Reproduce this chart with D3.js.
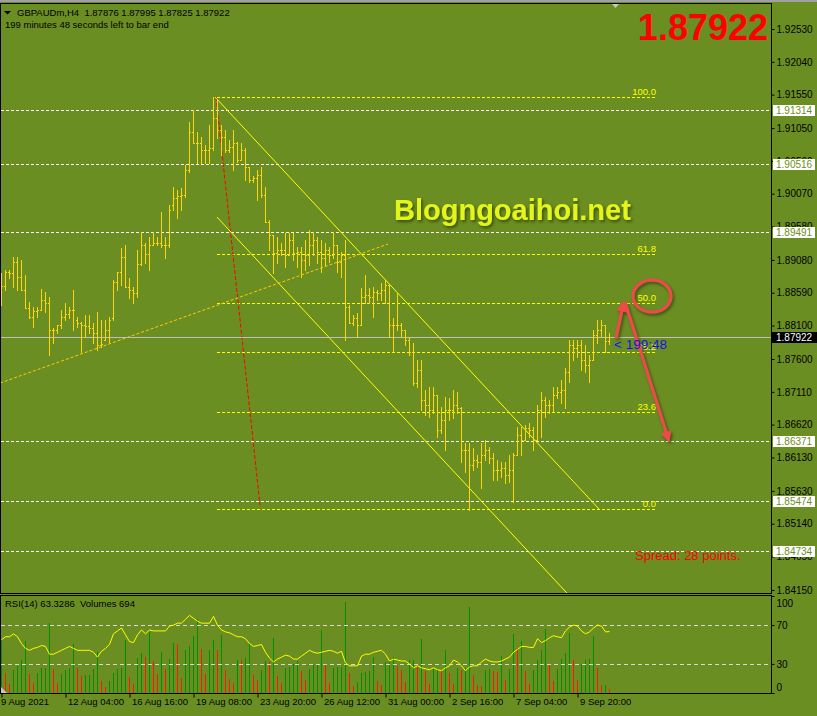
<!DOCTYPE html>
<meta charset="utf-8">
<style>
body { margin: 0; background: #6b8e23; }
svg { display: block; font-family: "Liberation Sans", Arial, sans-serif; }
</style>
<body>
<script src="https://d3js.org/d3.v7.min.js"></script>
<script>
// GBPAUDm H4 bars, oldest first
var barOpen = [
    1.8863,1.8869,1.8890,1.8888,1.8905,1.8882,1.8863,1.8836,1.8823,1.8832,
    1.8833,1.8848,1.8844,1.8803,1.8803,1.8811,1.8823,1.8827,1.8833,1.8818,
    1.8814,1.8811,1.8809,1.8806,1.8799,1.8781,1.8788,1.8803,1.8821,1.8875,
    1.8890,1.8912,1.8868,1.8863,1.8859,1.8902,1.8930,1.8917,1.8930,1.8933,
    1.8933,1.8930,1.8930,1.8990,1.9000,1.9004,1.9005,1.9042,1.9099,1.9083,
    1.9083,1.9072,1.9072,1.9075,1.9120,1.9102,1.9092,1.9072,1.9077,1.9083,
    1.9057,1.9072,1.9047,1.9027,1.9030,1.9035,1.9005,1.8965,1.8945,1.8918,
    1.8923,1.8923,1.8915,1.8938,1.8918,1.8920,1.8908,1.8915,1.8930,1.8938,
    1.8920,1.8911,1.8923,1.8915,1.8930,1.8905,1.8915,1.8838,1.8814,1.8821,
    1.8811,1.8853,1.8856,1.8853,1.8860,1.8859,1.8863,1.8871,1.8811,1.8811,
    1.8811,1.8803,1.8788,1.8770,1.8724,1.8744,1.8699,1.8691,1.8684,1.8706,
    1.8654,1.8669,1.8684,1.8684,1.8691,1.8687,1.8624,1.8624,1.8602,1.8609,
    1.8606,1.8617,1.8624,1.8612,1.8594,1.8594,1.8597,1.8587,1.8594,1.8617,
    1.8646,1.8639,1.8657,1.8654,1.8639,1.8684,1.8699,1.8691,1.8691,1.8706,
    1.8711,1.8714,1.8741,1.8781,1.8776,1.8781,1.8758,1.8751,1.8758,1.8796,
    1.8803,1.8811,1.87876]
var barHigh = [
    1.8888,1.8893,1.8893,1.8912,1.8912,1.8908,1.8885,1.8845,1.8838,1.8838,
    1.8865,1.8860,1.8853,1.8806,1.8811,1.8833,1.8844,1.8838,1.8863,1.8823,
    1.8815,1.8826,1.8826,1.8814,1.8830,1.8818,1.8818,1.8823,1.8878,1.8890,
    1.8926,1.8930,1.8881,1.8868,1.8923,1.8950,1.8933,1.8942,1.8950,1.8942,
    1.8980,1.8942,1.8990,1.9017,1.9012,1.9015,1.9050,1.9114,1.9132,1.9099,
    1.9092,1.9080,1.9110,1.9151,1.9147,1.9110,1.9102,1.9087,1.9102,1.9084,
    1.9083,1.9075,1.9047,1.9033,1.9042,1.9047,1.9017,1.8968,1.8945,1.8942,
    1.8933,1.8948,1.8948,1.8948,1.8927,1.8927,1.8938,1.8953,1.8950,1.8942,
    1.8938,1.8933,1.8927,1.8950,1.8930,1.8920,1.8938,1.8841,1.8826,1.8829,
    1.8866,1.8885,1.8866,1.8868,1.8863,1.8874,1.8878,1.8871,1.8821,1.8859,
    1.8814,1.8803,1.8793,1.8784,1.8758,1.8758,1.8714,1.8718,1.8718,1.8706,
    1.8688,1.8703,1.8702,1.8714,1.8711,1.8688,1.8634,1.8634,1.8627,1.8617,
    1.8634,1.8639,1.8628,1.8620,1.8609,1.8606,1.8606,1.8617,1.8620,1.8658,
    1.8658,1.8661,1.8664,1.8658,1.8691,1.8711,1.8703,1.8699,1.8718,1.8718,
    1.8729,1.8747,1.8788,1.8788,1.8788,1.8788,1.8781,1.8766,1.8803,1.8818,
    1.8818,1.8811,1.87995]
var barLow = [
    1.8841,1.8863,1.8881,1.8868,1.8863,1.8863,1.8836,1.8821,1.8808,1.8823,
    1.8833,1.8830,1.8766,1.8784,1.8799,1.8806,1.8818,1.8821,1.8803,1.8808,
    1.8770,1.8793,1.8799,1.8784,1.8773,1.8778,1.8788,1.8785,1.8818,1.8863,
    1.8871,1.8868,1.8851,1.8844,1.8853,1.8900,1.8903,1.8893,1.8930,1.8930,
    1.8927,1.8911,1.8927,1.8983,1.8971,1.8983,1.9002,1.9039,1.9083,1.9053,
    1.9053,1.9053,1.9053,1.9072,1.9090,1.9065,1.9069,1.9069,1.9042,1.9054,
    1.9057,1.9027,1.9024,1.9024,1.8998,1.9002,1.8965,1.8923,1.8888,1.8903,
    1.8915,1.8897,1.8915,1.8908,1.8897,1.8882,1.8893,1.8900,1.8915,1.8903,
    1.8890,1.8900,1.8905,1.8911,1.8890,1.8882,1.8788,1.8814,1.8811,1.8793,
    1.8811,1.8844,1.8844,1.8823,1.8848,1.8848,1.8844,1.8793,1.8770,1.8803,
    1.8793,1.8781,1.8766,1.8721,1.8718,1.8684,1.8676,1.8673,1.8679,1.8643,
    1.8649,1.8624,1.8669,1.8672,1.8679,1.8606,1.8591,1.8534,1.8594,1.8599,
    1.8567,1.8609,1.8605,1.8579,1.8579,1.8584,1.8575,1.8576,1.8546,1.8617,
    1.8617,1.8639,1.8643,1.8624,1.8639,1.8643,1.8673,1.8679,1.8681,1.8702,
    1.8694,1.8687,1.8726,1.8758,1.8763,1.8744,1.8741,1.8726,1.8758,1.8784,
    1.8793,1.8770,1.87825]
var barClose = [
    1.8869,1.8890,1.8888,1.8905,1.8882,1.8863,1.8836,1.8823,1.8832,1.8833,
    1.8848,1.8844,1.8803,1.8803,1.8811,1.8823,1.8827,1.8833,1.8833,1.8814,
    1.8811,1.8809,1.8806,1.8799,1.8781,1.8782,1.8803,1.8818,1.8875,1.8890,
    1.8912,1.8868,1.8863,1.8859,1.8902,1.8930,1.8917,1.8930,1.8933,1.8933,
    1.8930,1.8930,1.8983,1.9000,1.9004,1.9005,1.9042,1.9099,1.9083,1.9083,
    1.9072,1.9072,1.9075,1.9120,1.9102,1.9092,1.9072,1.9077,1.9083,1.9057,
    1.9072,1.9047,1.9027,1.9030,1.9035,1.9005,1.8965,1.8945,1.8918,1.8923,
    1.8923,1.8915,1.8938,1.8918,1.8920,1.8908,1.8915,1.8930,1.8938,1.8920,
    1.8911,1.8923,1.8915,1.8930,1.8905,1.8915,1.8838,1.8814,1.8821,1.8811,
    1.8853,1.8856,1.8853,1.8860,1.8859,1.8863,1.8871,1.8811,1.8811,1.8811,
    1.8803,1.8788,1.8770,1.8724,1.8744,1.8699,1.8691,1.8684,1.8706,1.8654,
    1.8669,1.8684,1.8684,1.8691,1.8687,1.8624,1.8624,1.8602,1.8609,1.8606,
    1.8617,1.8624,1.8612,1.8594,1.8594,1.8597,1.8587,1.8594,1.8617,1.8646,
    1.8639,1.8657,1.8654,1.8639,1.8684,1.8699,1.8691,1.8691,1.8706,1.8711,
    1.8714,1.8741,1.8781,1.8776,1.8781,1.8758,1.8751,1.8758,1.8796,1.8803,
    1.8811,1.8787,1.87922]
var volumes = [
    8960,3400,1470,3860,4540,5560,8790,3180,1700,3400,
    4250,4310,11910,4030,1700,3180,3860,4310,8390,4310,
    2840,3010,3060,4030,6970,2040,1020,2040,3460,4140,
    4250,8960,2720,1470,6010,6800,6120,10380,5440,3290,
    6970,4140,5730,8510,8280,2610,7260,7940,9640,12640,
    7430,3290,7260,9070,7260,9810,3860,2440,1700,5670,
    5600,6010,8390,3010,2270,3860,5440,5270,9360,2840,
    1700,4250,4400,4880,5440,3740,2270,4140,4710,4880,
    10660,4870,1700,4310,4420,4480,15480,3400,1130,1870,
    3400,3570,3740,6120,2040,1300,5270,5560,6120,4600,
    3860,1870,5560,5620,4540,9130,3690,1470,4030,4140,
    3860,7260,3460,1470,4310,3860,4310,14630,3010,1300,
    1250,3860,4030,3690,3650,6240,2150,4030,9980,7710,
    8790,3690,1470,3860,5560,7260,10940,4880,2040,4030,
    5840,6800,10260,5560,2150,4880,5560,5730,9640,4250,
    1300,1350,694]
var rsiValues = [
    55,58,58,61,58,51,46,44,46,47,
    49,48,40,40,42,44,46,48,46,44,
    44,44,44,42,37,43,46,50,61,64,
    67,60,53,52,60,65,61,65,64,64,
    64,64,69,70,72,72,76,80,77,74,
    72,72,72,79,70,65,63,62,60,58,
    58,56,51,48,49,50,42,36,32,35,
    37,39,38,35,35,38,41,44,42,41,
    42,43,44,43,41,43,31,28,28,28,
    38,40,40,42,43,44,40,33,35,34,
    33,33,30,26,28,26,25,24,26,24,
    23,26,28,34,32,28,23,27,28,28,
    32,35,33,32,32,33,35,37,42,45,
    48,48,47,47,56,52,54,57,59,58,
    57,64,68,70,69,64,61,63,67,70,
    69,63,63.3286]

var timeTicks = [0, 16, 32, 48, 64, 80, 96, 112, 128, 144]
var timeLabels = ['9 Aug 2021', '12 Aug 04:00', '16 Aug 16:00', '19 Aug 08:00', '23 Aug 20:00',
    '26 Aug 12:00', '31 Aug 00:00', '2 Sep 16:00', '7 Sep 04:00', '9 Sep 20:00']
var priceTicks = [1.92530, 1.92040, 1.91550, 1.91050, 1.90560, 1.90070, 1.89580, 1.89080, 1.88590,
    1.88100, 1.87600, 1.87110, 1.86620, 1.86130, 1.85630, 1.85140, 1.84650, 1.84150]
var levelLines = [1.91314, 1.90516, 1.89491, 1.86371, 1.85474, 1.84734]
var rsiLevels = [70, 30]
var lastPrice = 1.87922
var spreadPoints = 28

// fibonacci retracement: anchors [bar, price]
var fibLevels = [100.0, 61.8, 50.0, 38.2, 23.6, 0.0]
var fibHigh = [54, 1.91514]
var fibLow = [163.75, 1.85360]
// drawn objects, [bar, price] pairs
var channelUpper = [[53.5, 1.91514], [149.75, 1.85344]]
var channelLower = [[54, 1.89721], [145, 1.83879]]
var risingTrend = [[-0.25, 1.87241], [96.75, 1.89318]]
var fibTrend = [[53.75, 1.91514], [64.75, 1.85418]]
var arrowUp = [[153.75, 1.87913], [155.5, 1.88406]]
var arrowDown = [[156, 1.88451], [166.75, 1.86419]]
var ringCenter = [162.75, 1.88541]

var width = 817
var height = 716

var x = d3.scaleLinear().domain([-0.25, 192.25]).range([0, 770])
var y = d3.scaleLinear().domain([1.84150, 1.92530]).range([590, 29])
var rsiY = d3.scaleLinear().domain([0, 100]).range([693, 596])
var volY = d3.scaleLinear().domain([0, 16500]).range([693, 596])

var svg = d3.select('body').append('svg')
    .attr('width', width)
    .attr('height', height)

var defs = svg.append('defs')
defs.append('clipPath').attr('id', 'mainClip')
    .append('rect').attr('x', 1).attr('y', 4).attr('width', 770).attr('height', 589)
defs.append('clipPath').attr('id', 'subClip')
    .append('rect').attr('x', 1).attr('y', 596).attr('width', 770).attr('height', 97)
defs.append('marker')
    .attr('id', 'arrowHead')
    .attr('viewBox', '0 0 10 10')
    .attr('refX', 6).attr('refY', 5)
    .attr('markerWidth', 3.8).attr('markerHeight', 3.6)
    .attr('orient', 'auto')
    .append('path').attr('d', 'M0,0L10,5L0,10z').attr('fill', '#f04a4a')
var shadow = defs.append('filter').attr('id', 'shadow')
    .attr('x', '-10%').attr('y', '-20%').attr('width', '130%').attr('height', '160%')
shadow.append('feDropShadow')
    .attr('dx', 1.5).attr('dy', 2).attr('stdDeviation', 1.5)
    .attr('flood-color', '#33450c').attr('flood-opacity', 0.9)

svg.append('rect').attr('width', width).attr('height', height).attr('fill', '#6b8e23')
svg.append('rect').attr('width', width).attr('height', 2).attr('fill', '#a0a0a0')

var main = svg.append('g').attr('clip-path', 'url(#mainClip)')
var sub = svg.append('g').attr('clip-path', 'url(#subClip)')

function hLine(g, price, x1, x2, color, dash) {
    var yy = Math.round(y(price)) + 0.5
    return g.append('line')
        .attr('x1', x1).attr('x2', x2)
        .attr('y1', yy).attr('y2', yy)
        .attr('stroke', color)
        .attr('stroke-dasharray', dash)
}

function segment(g, pts, color, w, dash) {
    return g.append('line')
        .attr('x1', x(pts[0][0])).attr('y1', y(pts[0][1]))
        .attr('x2', x(pts[1][0])).attr('y2', y(pts[1][1]))
        .attr('stroke', color)
        .attr('stroke-width', w)
        .attr('stroke-dasharray', dash)
}

// horizontal levels
levelLines.forEach(function (v) { hLine(main, v, 1, 771, '#ffffff', '3,2') })

// fibo lines
var fibX1 = Math.round(x(fibHigh[0]))
var fibX2 = Math.round(x(fibLow[0]))
fibLevels.forEach(function (lv) {
    var p = fibLow[1] + (fibHigh[1] - fibLow[1]) * lv / 100
    hLine(main, p, fibX1, fibX2, '#ffff00', '3,2')
})

segment(main, fibTrend, '#ff0000', 1, '4,2')
segment(main, channelUpper, '#ffff00', 1, null)
segment(main, channelLower, '#ffff00', 1, null)
segment(main, risingTrend, '#ffcc00', 1, '3,2')

hLine(main, lastPrice, 1, 771, '#c0c0c0', null)

// OHLC bars
var bars = main.append('g')
    .attr('fill', '#ffd700')
    .attr('shape-rendering', 'crispEdges')
    .selectAll('g')
    .data(d3.range(barClose.length))
    .enter().append('g')

bars.append('rect')
    .attr('x', function (d) { return Math.round(x(d)) })
    .attr('y', function (d) { return Math.round(y(barHigh[d])) })
    .attr('width', 1)
    .attr('height', function (d) { return Math.round(y(barLow[d])) - Math.round(y(barHigh[d])) + 1 })
bars.append('rect')
    .attr('x', function (d) { return Math.round(x(d)) - 1 })
    .attr('y', function (d) { return Math.round(y(barOpen[d])) })
    .attr('width', 1).attr('height', 1)
bars.append('rect')
    .attr('x', function (d) { return Math.round(x(d)) + 1 })
    .attr('y', function (d) { return Math.round(y(barClose[d])) })
    .attr('width', 1).attr('height', 1)

// fibo level labels
var fibText = main.append('g')
    .attr('font-size', '9.5px')
    .attr('fill', '#ffff00')
    .attr('text-anchor', 'end')
fibLevels.forEach(function (lv) {
    var p = fibLow[1] + (fibHigh[1] - fibLow[1]) * lv / 100
    fibText.append('text')
        .attr('x', fibX2)
        .attr('y', Math.round(y(p)) - 2)
        .text(lv.toFixed(1))
})

// red arrows and ring
var marks = main.append('g').attr('filter', 'url(#shadow)')
segment(marks, arrowUp, '#f04a4a', 3, null).attr('marker-end', 'url(#arrowHead)')
segment(marks, arrowDown, '#f04a4a', 3, null).attr('marker-end', 'url(#arrowHead)')
marks.append('ellipse')
    .attr('cx', x(ringCenter[0])).attr('cy', y(ringCenter[1]))
    .attr('rx', 19).attr('ry', 16)
    .attr('fill', 'none')
    .attr('stroke', '#f04a4a')
    .attr('stroke-width', 3)

main.append('text')
    .attr('x', x(barClose.length - 1) + 5)
    .attr('y', Math.round(y(lastPrice)) + 12)
    .attr('font-size', '13.5px')
    .attr('fill', '#1515e8')
    .text('< 199:48')

main.append('text')
    .attr('x', 394).attr('y', 220)
    .attr('font-size', '29px')
    .attr('font-weight', 'bold')
    .attr('fill', '#e4f51a')
    .attr('filter', 'url(#shadow)')
    .text('Blogngoaihoi.net')

main.append('text')
    .attr('x', 768).attr('y', 40)
    .attr('text-anchor', 'end')
    .attr('font-size', '36px')
    .attr('font-weight', 'bold')
    .attr('fill', '#ff0000')
    .text(lastPrice.toFixed(5))

main.append('text')
    .attr('x', 635).attr('y', 560)
    .attr('font-size', '13px')
    .attr('fill', '#ff0000')
    .text('Spread: ' + spreadPoints + ' points.')

// indicator window: volumes + RSI
sub.append('g')
    .attr('shape-rendering', 'crispEdges')
    .selectAll('rect')
    .data(volumes)
    .enter().append('rect')
    .attr('x', function (d, i) { return Math.round(x(i)) })
    .attr('y', function (d) { return Math.round(volY(d)) })
    .attr('width', 1)
    .attr('height', function (d) { return 693 - Math.round(volY(d)) })
    .attr('fill', function (d, i) { return i > 0 && d < volumes[i - 1] ? '#ff1a00' : '#009000' })

rsiLevels.forEach(function (lv) {
    var yy = Math.round(rsiY(lv)) + 0.5
    sub.append('line')
        .attr('x1', 1).attr('x2', 771)
        .attr('y1', yy).attr('y2', yy)
        .attr('stroke', '#d8d8d8')
        .attr('stroke-dasharray', '4,3')
})

sub.append('path')
    .datum(rsiValues)
    .attr('fill', 'none')
    .attr('stroke', '#ffff00')
    .attr('stroke-width', 1)
    .attr('d', d3.line()
        .x(function (d, i) { return x(i) + 0.5 })
        .y(function (d) { return rsiY(d) }))

sub.append('path')
    .attr('d', 'M1,687L1,693L7,693Z')
    .attr('fill', '#c8c8c8')

// frames
svg.append('rect')
    .attr('x', 0.5).attr('y', 3.5).attr('width', 771).attr('height', 590)
    .attr('fill', 'none').attr('stroke', '#000')
svg.append('rect')
    .attr('x', 0.5).attr('y', 595.5).attr('width', 771).attr('height', 98)
    .attr('fill', 'none').attr('stroke', '#000')

svg.append('path')
    .attr('d', 'M612,4L619,4L615.5,8Z')
    .attr('fill', '#c8c8c8')

// price axis
var priceAxis = svg.append('g')
    .attr('transform', 'translate(771.5,0)')
    .call(d3.axisRight(y).tickValues(priceTicks).tickSize(3).tickPadding(2).tickFormat(d3.format('.5f')))
priceAxis.select('.domain').remove()
priceAxis.attr('font-family', null).attr('font-size', '10px').attr('color', '#000')

levelLines.forEach(function (v) {
    var yy = Math.round(y(v))
    svg.append('rect')
        .attr('x', 773).attr('y', yy - 5).attr('width', 42).attr('height', 11)
        .attr('fill', '#fff')
    svg.append('text')
        .attr('x', 776).attr('y', yy + 4)
        .attr('font-size', '10px')
        .attr('fill', '#6b8e23')
        .text(v.toFixed(5))
})
var lastY = Math.round(y(lastPrice))
svg.append('rect')
    .attr('x', 772).attr('y', lastY - 5).attr('width', 45).attr('height', 11)
    .attr('fill', '#000')
svg.append('text')
    .attr('x', 776).attr('y', lastY + 4)
    .attr('font-size', '10px')
    .attr('fill', '#fff')
    .text(lastPrice.toFixed(5))

// RSI axis
var rsiAxis = svg.append('g')
    .attr('transform', 'translate(771.5,0)')
    .call(d3.axisRight(rsiY).tickValues([100, 70, 30, 0]).tickSize(3).tickPadding(2))
rsiAxis.select('.domain').remove()
rsiAxis.attr('font-family', null).attr('font-size', '10px').attr('color', '#000')
rsiAxis.selectAll('text')
    .attr('dy', function (d) { return d === 100 ? '1.05em' : d === 0 ? '-0.25em' : '0.32em' })

// time axis
var timeAxis = svg.append('g')
    .attr('transform', 'translate(0.5,693.5)')
    .call(d3.axisBottom(x).tickValues(timeTicks).tickSize(4).tickPadding(1)
        .tickFormat(function (d, i) { return timeLabels[i] }))
timeAxis.select('.domain').remove()
timeAxis.attr('font-family', null).attr('font-size', '9.5px').attr('color', '#000')
timeAxis.selectAll('text').attr('text-anchor', 'start')
    .attr('x', function (d) { return d === 0 ? -1 : 2 })

// header text
svg.append('path').attr('d', 'M4,11L11,11L7.5,14.5Z').attr('fill', '#000')
svg.append('text')
    .attr('x', 17).attr('y', 16)
    .attr('font-size', '9.5px')
    .attr('fill', '#000')
    .attr('xml:space', 'preserve')
    .text('GBPAUDm,H4  ' + [barOpen[152], barHigh[152], barLow[152], barClose[152]].map(function (v) { return v.toFixed(5) }).join(' '))
svg.append('text')
    .attr('x', 5).attr('y', 28)
    .attr('font-size', '9.5px')
    .attr('fill', '#000')
    .text('199 minutes 48 seconds left to bar end')
svg.append('text')
    .attr('x', 5).attr('y', 607)
    .attr('font-size', '9.5px')
    .attr('fill', '#000')
    .attr('xml:space', 'preserve')
    .text('RSI(14) ' + rsiValues[rsiValues.length - 1].toFixed(4) + '  Volumes ' + volumes[volumes.length - 1])
</script>
</body>
